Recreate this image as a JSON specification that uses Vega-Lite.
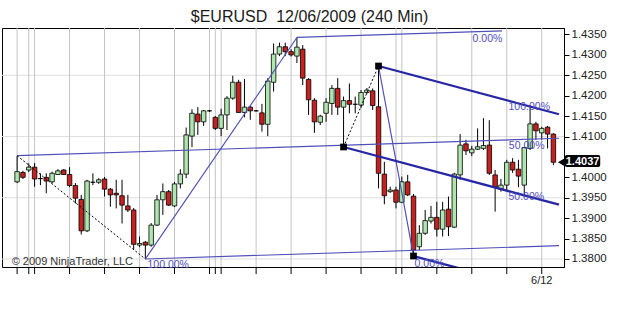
{
"$schema":"https://vega.github.io/schema/vega-lite/v6.json",
"width":562,"height":239,"autosize":"none",
"padding":{"left":2,"top":28,"right":61,"bottom":45},
"background":"white",
"config":{"view":{"stroke":"#000","strokeWidth":1},"font":"Liberation Sans"},
"datasets":{
"candles":[
{"i":0,"o":1.3989,"h":1.4052,"l":1.3986,"c":1.4014},
{"i":1,"o":1.4012,"h":1.4016,"l":1.3996,"c":1.4000},
{"i":2,"o":1.4018,"h":1.4034,"l":1.4013,"c":1.4025},
{"i":3,"o":1.4025,"h":1.4035,"l":1.3977,"c":1.3996},
{"i":4,"o":1.3997,"h":1.4010,"l":1.3981,"c":1.3997},
{"i":5,"o":1.4000,"h":1.4010,"l":1.3961,"c":1.3991},
{"i":6,"o":1.3989,"h":1.4014,"l":1.3985,"c":1.4010},
{"i":7,"o":1.4007,"h":1.4020,"l":1.4006,"c":1.4016},
{"i":8,"o":1.4018,"h":1.4020,"l":1.4006,"c":1.4007},
{"i":9,"o":1.4007,"h":1.4025,"l":1.3976,"c":1.3980},
{"i":10,"o":1.3980,"h":1.3986,"l":1.3936,"c":1.3949},
{"i":11,"o":1.3946,"h":1.3957,"l":1.3860,"c":1.3869},
{"i":12,"o":1.3869,"h":1.3994,"l":1.3866,"c":1.3991},
{"i":13,"o":1.3988,"h":1.4010,"l":1.3981,"c":1.3988},
{"i":14,"o":1.3988,"h":1.3998,"l":1.3984,"c":1.3994},
{"i":15,"o":1.3996,"h":1.4001,"l":1.3953,"c":1.3971},
{"i":16,"o":1.3971,"h":1.3974,"l":1.3928,"c":1.3957},
{"i":17,"o":1.3961,"h":1.3994,"l":1.3924,"c":1.3957},
{"i":18,"o":1.3955,"h":1.3994,"l":1.3887,"c":1.3932},
{"i":19,"o":1.3930,"h":1.3957,"l":1.3915,"c":1.3920},
{"i":20,"o":1.3920,"h":1.3925,"l":1.3822,"c":1.3836},
{"i":21,"o":1.3834,"h":1.3855,"l":1.3829,"c":1.3838},
{"i":22,"o":1.3841,"h":1.3844,"l":1.3800,"c":1.3834},
{"i":23,"o":1.3834,"h":1.3888,"l":1.3830,"c":1.3883},
{"i":24,"o":1.3883,"h":1.3957,"l":1.3881,"c":1.3945},
{"i":25,"o":1.3945,"h":1.3985,"l":1.3908,"c":1.3965},
{"i":26,"o":1.3965,"h":1.3969,"l":1.3930,"c":1.3932},
{"i":27,"o":1.3930,"h":1.3989,"l":1.3927,"c":1.3984},
{"i":28,"o":1.3984,"h":1.4020,"l":1.3973,"c":1.4008},
{"i":29,"o":1.4008,"h":1.4122,"l":1.3998,"c":1.4104},
{"i":30,"o":1.4101,"h":1.4167,"l":1.4074,"c":1.4157},
{"i":31,"o":1.4155,"h":1.4172,"l":1.4104,"c":1.4136},
{"i":32,"o":1.4136,"h":1.4165,"l":1.4126,"c":1.4163},
{"i":33,"o":1.4163,"h":1.4165,"l":1.4160,"c":1.4163},
{"i":34,"o":1.4147,"h":1.4150,"l":1.4116,"c":1.4120},
{"i":35,"o":1.4120,"h":1.4168,"l":1.4101,"c":1.4153},
{"i":36,"o":1.4153,"h":1.4199,"l":1.4116,"c":1.4194},
{"i":37,"o":1.4194,"h":1.4249,"l":1.4190,"c":1.4233},
{"i":38,"o":1.4233,"h":1.4239,"l":1.4158,"c":1.4159},
{"i":39,"o":1.4159,"h":1.4241,"l":1.4147,"c":1.4172},
{"i":40,"o":1.4172,"h":1.4175,"l":1.4141,"c":1.4163},
{"i":41,"o":1.4163,"h":1.4165,"l":1.4161,"c":1.4163},
{"i":42,"o":1.4158,"h":1.4180,"l":1.4112,"c":1.4130},
{"i":43,"o":1.4130,"h":1.4243,"l":1.4101,"c":1.4236},
{"i":44,"o":1.4233,"h":1.4328,"l":1.4210,"c":1.4302},
{"i":45,"o":1.4302,"h":1.4330,"l":1.4297,"c":1.4320},
{"i":46,"o":1.4320,"h":1.4330,"l":1.4297,"c":1.4308},
{"i":47,"o":1.4308,"h":1.4314,"l":1.4296,"c":1.4300},
{"i":48,"o":1.4297,"h":1.4343,"l":1.4280,"c":1.4319},
{"i":49,"o":1.4314,"h":1.4324,"l":1.4226,"c":1.4243},
{"i":50,"o":1.4240,"h":1.4243,"l":1.4153,"c":1.4190},
{"i":51,"o":1.4189,"h":1.4194,"l":1.4109,"c":1.4136},
{"i":52,"o":1.4135,"h":1.4153,"l":1.4128,"c":1.4150},
{"i":53,"o":1.4157,"h":1.4194,"l":1.4136,"c":1.4184},
{"i":54,"o":1.4181,"h":1.4226,"l":1.4153,"c":1.4218},
{"i":55,"o":1.4218,"h":1.4243,"l":1.4153,"c":1.4172},
{"i":56,"o":1.4172,"h":1.4198,"l":1.4074,"c":1.4188},
{"i":57,"o":1.4188,"h":1.4230,"l":1.4157,"c":1.4179},
{"i":58,"o":1.4179,"h":1.4198,"l":1.4157,"c":1.4179},
{"i":59,"o":1.4177,"h":1.4214,"l":1.4170,"c":1.4208},
{"i":60,"o":1.4208,"h":1.4219,"l":1.4204,"c":1.4214},
{"i":61,"o":1.4212,"h":1.4218,"l":1.4165,"c":1.4176},
{"i":62,"o":1.4173,"h":1.4273,"l":1.3973,"c":1.4010},
{"i":63,"o":1.4008,"h":1.4038,"l":1.3934,"c":1.3955},
{"i":64,"o":1.3965,"h":1.3977,"l":1.3962,"c":1.3969},
{"i":65,"o":1.3969,"h":1.3977,"l":1.3924,"c":1.3939},
{"i":66,"o":1.3939,"h":1.4002,"l":1.3937,"c":1.3989},
{"i":67,"o":1.3989,"h":1.4006,"l":1.3954,"c":1.3957},
{"i":68,"o":1.3954,"h":1.3959,"l":1.3807,"c":1.3822},
{"i":69,"o":1.3830,"h":1.3883,"l":1.3822,"c":1.3863},
{"i":70,"o":1.3863,"h":1.3920,"l":1.3859,"c":1.3894},
{"i":71,"o":1.3893,"h":1.3930,"l":1.3887,"c":1.3902},
{"i":72,"o":1.3902,"h":1.3940,"l":1.3855,"c":1.3873},
{"i":73,"o":1.3873,"h":1.3940,"l":1.3855,"c":1.3920},
{"i":74,"o":1.3922,"h":1.3953,"l":1.3856,"c":1.3879},
{"i":75,"o":1.3878,"h":1.4011,"l":1.3876,"c":1.4008},
{"i":76,"o":1.4006,"h":1.4106,"l":1.3994,"c":1.4079},
{"i":77,"o":1.4082,"h":1.4092,"l":1.4055,"c":1.4065},
{"i":78,"o":1.4060,"h":1.4077,"l":1.4052,"c":1.4069},
{"i":79,"o":1.4069,"h":1.4120,"l":1.4067,"c":1.4075},
{"i":80,"o":1.4071,"h":1.4145,"l":1.4067,"c":1.4078},
{"i":81,"o":1.4079,"h":1.4140,"l":1.4006,"c":1.4010},
{"i":82,"o":1.4006,"h":1.4018,"l":1.3916,"c":1.3976},
{"i":83,"o":1.3971,"h":1.3996,"l":1.3965,"c":1.3981},
{"i":84,"o":1.3981,"h":1.4043,"l":1.3969,"c":1.4037},
{"i":85,"o":1.4037,"h":1.4047,"l":1.4011,"c":1.4018},
{"i":86,"o":1.4020,"h":1.4043,"l":1.3976,"c":1.4003},
{"i":87,"o":1.3981,"h":1.4075,"l":1.3953,"c":1.4073},
{"i":88,"o":1.4071,"h":1.4177,"l":1.4067,"c":1.4131},
{"i":89,"o":1.4131,"h":1.4136,"l":1.4092,"c":1.4114},
{"i":90,"o":1.4109,"h":1.4124,"l":1.4092,"c":1.4120},
{"i":91,"o":1.4123,"h":1.4126,"l":1.4071,"c":1.4106},
{"i":92,"o":1.4106,"h":1.4108,"l":1.4030,"c":1.4037}
],
"lines":[
{"g":"f1dash","x":0,"p":1.40531},{"g":"f1dash","x":22,"p":1.3800},
{"g":"f1hand","x":22,"p":1.3800},{"g":"f1hand","x":48,"p":1.43427},
{"g":"f1mid","x":0,"p":1.40531},{"g":"f1mid","x":92.96,"p":1.40958},
{"g":"f1low","x":22,"p":1.3800},{"g":"f1low","x":92.96,"p":1.38326},
{"g":"f1top","x":48,"p":1.43427},{"g":"f1top","x":83.19,"p":1.43589},
{"g":"f2dash","x":56,"p":1.40744},{"g":"f2dash","x":62,"p":1.42728},
{"g":"f2hand","x":62,"p":1.42728},{"g":"f2hand","x":68,"p":1.38073},
{"g":"f2mid","x":56,"p":1.40744},{"g":"f2mid","x":92.96,"p":1.39333},
{"g":"f2top","x":62,"p":1.42728},{"g":"f2top","x":92.96,"p":1.41546},
{"g":"f2low","x":68,"p":1.38073},{"g":"f2low","x":92.96,"p":1.37120}
],
"pivots":[{"x":56,"p":1.40744},{"x":62,"p":1.42728},{"x":68,"p":1.38073}],
"labels":[
{"t":"0.00%","x":78.13,"p":1.43390},
{"t":"50.00%","x":84.36,"p":1.40768},
{"t":"100.00%","x":22.36,"p":1.37845},
{"t":"100.00%","x":84.3,"p":1.41719},
{"t":"50.00%","x":84.3,"p":1.39531},
{"t":"0.00%","x":68.19,"p":1.37889}
],
"hgrid":[{"v":1.38},{"v":1.395},{"v":1.41},{"v":1.425}],
"vgrid":[{"v":0},{"v":2},{"v":3},{"v":9},{"v":15},{"v":21},{"v":27},{"v":33},{"v":34},{"v":35},{"v":41},{"v":47},{"v":53},{"v":59},{"v":65},{"v":66},{"v":72},{"v":78},{"v":84},{"v":90}],
"xtick":[{"t":"6/12","v":90}],
"last":[{"t":"1.4037","x":97.0,"x1":93.97,"x2":100.03,"xt":93.4,"p":1.4037,"p1":1.40548,"p2":1.40254}],
"note":[{"t":"© 2009 NinjaTrader, LLC","x":-0.94,"p":1.37853}],
"head":[{"t":"$EURUSD\u00a0 12/06/2009 (240 Min)","x":50.16,"p":1.43806}]
},
"layer":[
{"data":{"name":"hgrid"},"mark":{"type":"rule","color":"#dedede","strokeWidth":1},
 "encoding":{"y":{"field":"v","type":"quantitative","title":null,"scale":{"domain":[1.37804,1.43659],"nice":false,"zero":false},
   "axis":{"title":null,"orient":"right","tickCount":12,"labelExpr":"abs(datum.value - 1.405) < 0.0001 ? '' : format(datum.value, '.4f')","grid":false,"domain":true,"domainColor":"#000","tickSize":5,"tickColor":"#000","labelPadding":2,"labelFontSize":11.5,"labelColor":"#222","labelFont":"Liberation Sans","labelOverlap":false,"labelBound":false,"labelFlush":false}}}},
{"data":{"name":"vgrid"},"mark":{"type":"rule","color":"#c4c4c4","strokeWidth":1},
 "encoding":{"x":{"field":"v","type":"quantitative","title":null,"scale":{"domain":[-1.735,92.96],"nice":false,"zero":false},
   "axis":{"title":null,"grid":false,"ticks":false,"labels":false,"domain":false}}}},
{"data":{"name":"vgrid"},"mark":{"type":"rule","color":"#000","strokeWidth":1},
 "encoding":{"x":{"field":"v","type":"quantitative","title":null},"y":{"datum":1.37804,"type":"quantitative"},"y2":{"datum":1.37632}}},
{"data":{"name":"xtick"},"mark":{"type":"text","align":"center","baseline":"middle","fontSize":11,"color":"#222","font":"Liberation Sans"},
 "encoding":{"x":{"field":"v","type":"quantitative","title":null},"y":{"datum":1.3746,"type":"quantitative"},"text":{"field":"t"}}},
{"data":{"name":"candles"},"mark":{"type":"rule","color":"#000","strokeWidth":1},
 "encoding":{
  "x":{"field":"i","type":"quantitative","title":null},
  "y":{"field":"l","type":"quantitative","title":null},
  "y2":{"field":"h"}}},
{"data":{"name":"candles"},"mark":{"type":"bar","width":4.5,"stroke":"#000","strokeWidth":0.8},
 "encoding":{
  "x":{"field":"i","type":"quantitative","title":null},
  "y":{"field":"o","type":"quantitative","title":null},
  "y2":{"field":"c"},
  "fill":{"condition":{"test":"datum.c >= datum.o","value":"#aee6ae"},"value":"#c8201e"}}},
{"data":{"name":"lines"},"transform":[{"filter":{"field":"g","oneOf":["f1mid","f1low","f1top","f1hand","f2hand"]}}],
 "mark":{"type":"line","color":"#5050b8","strokeWidth":1.2,"clip":true},
 "encoding":{"x":{"field":"x","type":"quantitative","title":null},"y":{"field":"p","type":"quantitative","title":null},"detail":{"field":"g"}}},
{"data":{"name":"lines"},"transform":[{"filter":{"field":"g","oneOf":["f2mid","f2top","f2low"]}}],
 "mark":{"type":"line","color":"#2626a4","strokeWidth":2.3,"clip":true},
 "encoding":{"x":{"field":"x","type":"quantitative","title":null},"y":{"field":"p","type":"quantitative","title":null},"detail":{"field":"g"}}},
{"data":{"name":"lines"},"transform":[{"filter":{"field":"g","oneOf":["f1dash","f2dash"]}}],
 "mark":{"type":"line","color":"#000","strokeWidth":1,"strokeDash":[2,2],"clip":true},
 "encoding":{"x":{"field":"x","type":"quantitative","title":null},"y":{"field":"p","type":"quantitative","title":null},"detail":{"field":"g"}}},
{"data":{"name":"pivots"},"mark":{"type":"point","shape":"square","filled":true,"color":"#000","size":45,"opacity":1},
 "encoding":{"x":{"field":"x","type":"quantitative","title":null},"y":{"field":"p","type":"quantitative","title":null}}},
{"data":{"name":"labels"},"mark":{"type":"text","align":"left","baseline":"middle","fontSize":10.5,"color":"#4f4fc0","font":"Liberation Sans"},
 "encoding":{"x":{"field":"x","type":"quantitative","title":null},"y":{"field":"p","type":"quantitative","title":null},"text":{"field":"t"}}},
{"data":{"name":"note"},"mark":{"type":"text","align":"left","baseline":"alphabetic","fontSize":11,"color":"#333","font":"Liberation Sans"},
 "encoding":{"x":{"field":"x","type":"quantitative","title":null},"y":{"field":"p","type":"quantitative","title":null},"text":{"field":"t"}}},
{"data":{"name":"head"},"mark":{"type":"text","align":"center","baseline":"alphabetic","fontSize":16,"color":"#1a1a1a","font":"Liberation Sans"},
 "encoding":{"x":{"field":"x","type":"quantitative","title":null},"y":{"field":"p","type":"quantitative","title":null},"text":{"field":"t"}}},
{"data":{"name":"last"},"mark":{"type":"rect","color":"#000","cornerRadius":2},
 "encoding":{"x":{"field":"x1","type":"quantitative","title":null},"x2":{"field":"x2"},"y":{"field":"p1","type":"quantitative","title":null},"y2":{"field":"p2"}}},
{"data":{"name":"last"},"mark":{"type":"point","shape":"triangle-left","filled":true,"color":"#000","size":70,"opacity":1},
 "encoding":{"x":{"field":"xt","type":"quantitative","title":null},"y":{"field":"p","type":"quantitative","title":null}}},
{"data":{"name":"last"},"mark":{"type":"text","align":"center","baseline":"middle","fontSize":11,"fontWeight":"bold","color":"#fff","font":"Liberation Sans"},
 "encoding":{"x":{"field":"x","type":"quantitative","title":null},"y":{"field":"p","type":"quantitative","title":null},"text":{"field":"t"}}}
]
}
